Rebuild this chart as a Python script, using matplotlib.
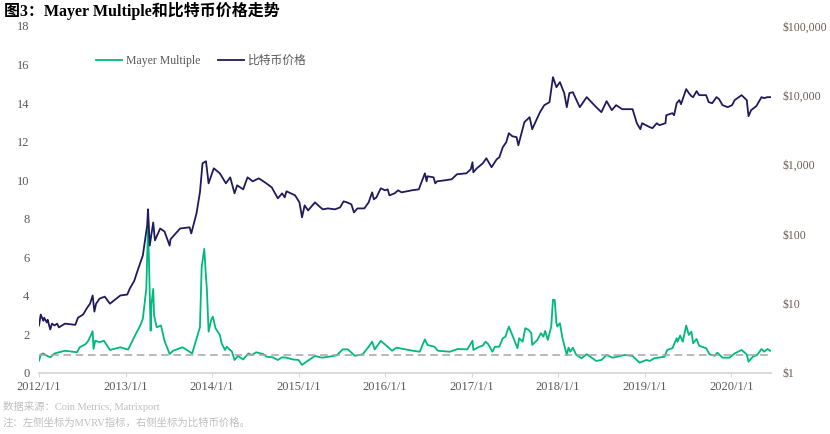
import matplotlib
matplotlib.use("Agg")
import matplotlib.pyplot as plt

plt.rcParams['font.family'] = ['Liberation Serif', 'Noto Sans CJK SC', 'DejaVu Sans']

# values, x is decimal year
price_years = [2012.00, 2012.02, 2012.05, 2012.06, 2012.09, 2012.10, 2012.13, 2012.15, 2012.18, 2012.21,
               2012.23, 2012.30, 2012.42, 2012.45, 2012.51, 2012.55, 2012.59, 2012.62, 2012.64, 2012.66,
               2012.70, 2012.76, 2012.82, 2012.94, 2013.02, 2013.05, 2013.10, 2013.14, 2013.20, 2013.25,
               2013.26, 2013.28, 2013.32, 2013.34, 2013.40,
               2013.45, 2013.51, 2013.52, 2013.63, 2013.74, 2013.76, 2013.82, 2013.86, 2013.89, 2013.93,
               2013.96, 2014.02, 2014.09, 2014.16, 2014.21, 2014.26, 2014.29, 2014.36, 2014.41, 2014.47,
               2014.54, 2014.61, 2014.69, 2014.76, 2014.81, 2014.84, 2014.86, 2014.96, 2015.01, 2015.04,
               2015.07, 2015.11, 2015.19, 2015.24, 2015.28, 2015.34, 2015.42, 2015.48, 2015.52, 2015.56,
               2015.61, 2015.64, 2015.68, 2015.76, 2015.81, 2015.85, 2015.87, 2015.90, 2015.95, 2016.00,
               2016.03, 2016.05, 2016.11, 2016.15, 2016.19, 2016.31, 2016.39, 2016.42, 2016.46, 2016.48,
               2016.49, 2016.56, 2016.58, 2016.60, 2016.69, 2016.77, 2016.83, 2016.94, 2016.99, 2017.01,
               2017.02, 2017.06, 2017.13, 2017.17, 2017.23, 2017.29, 2017.32, 2017.36, 2017.40, 2017.43,
               2017.47, 2017.52, 2017.54, 2017.61, 2017.67, 2017.70, 2017.79,
               2017.84, 2017.90, 2017.94, 2017.98, 2018.02, 2018.07, 2018.10, 2018.13, 2018.17, 2018.25,
               2018.33, 2018.44, 2018.50, 2018.56, 2018.62, 2018.67, 2018.74, 2018.86, 2018.91, 2018.95,
               2018.97, 2019.06, 2019.09, 2019.14, 2019.17, 2019.24, 2019.25, 2019.32, 2019.34, 2019.37,
               2019.40, 2019.42, 2019.48, 2019.51, 2019.54, 2019.56, 2019.60, 2019.63, 2019.71, 2019.74,
               2019.78, 2019.83, 2019.86, 2019.90, 2019.96, 2020.01, 2020.04, 2020.12, 2020.18, 2020.20,
               2020.23, 2020.29, 2020.35, 2020.38, 2020.42, 2020.46]
price = [4.8, 6.9, 5.6, 6.2, 5.3, 5.8, 4.2, 5.1, 4.8, 5.1,
         4.5, 5.1, 4.9, 6.2, 6.9, 8.4, 9.9, 13, 7.6, 9.9,
         11.7, 12.5, 9.9, 13, 13.4, 16.4, 21, 29.8, 49, 133,
         227, 68, 147, 81, 120,
         109, 68, 84, 120, 125, 102, 198, 399, 1048, 1120,
         538, 887, 751, 538, 657, 386, 504, 441, 657, 575,
         635, 557, 471, 327, 386, 338, 413, 361, 286, 174,
         259, 219, 286, 250, 227, 234, 227, 242, 296, 286,
         268, 205, 234, 234, 286, 399, 316, 338, 456, 427,
         441, 361, 386, 427, 399, 427, 441, 557, 751, 575,
         680, 657, 538, 575, 595, 616, 727, 751, 859, 1083,
         776, 887, 1048, 1237, 920, 1197, 1279, 1784, 2107, 2842,
         2570, 2490, 1906, 4100, 4840, 3250, 5720,
         7217, 7980, 18300, 13100, 15500, 10800, 6750, 10800, 11100, 6750,
         9420, 6750, 5720, 8250, 6110, 7217, 6320, 6320, 3960, 3250,
         3960, 3470, 3360, 3960, 3710, 3960, 5170, 5530, 5170, 7710,
         8530, 7460, 12300, 10800, 9730, 9420, 11500, 10060, 10060, 7980,
         7710, 9420, 8810, 7220, 6750, 7220, 8530, 10060, 8530, 5000,
         6110, 6980, 9420, 9120, 9420, 9420]

mayer_years = [2012.00, 2012.02, 2012.05, 2012.09, 2012.13, 2012.18, 2012.30, 2012.44, 2012.47, 2012.54,
               2012.57, 2012.62, 2012.63, 2012.65, 2012.70, 2012.75, 2012.82, 2012.94, 2013.03, 2013.11,
               2013.17, 2013.20, 2013.24, 2013.26, 2013.27, 2013.29, 2013.30, 2013.32, 2013.33, 2013.36,
               2013.41, 2013.45, 2013.51, 2013.55, 2013.66, 2013.77, 2013.82, 2013.86, 2013.88, 2013.91,
               2013.93, 2013.94, 2013.95, 2013.96, 2013.99, 2014.01, 2014.04, 2014.09, 2014.11, 2014.15,
               2014.17, 2014.23, 2014.26, 2014.30, 2014.36, 2014.42, 2014.46, 2014.51, 2014.59, 2014.63,
               2014.70, 2014.76, 2014.81, 2014.86, 2014.93, 2015.00, 2015.04, 2015.09, 2015.19, 2015.27,
               2015.35, 2015.44, 2015.51, 2015.57, 2015.65, 2015.74, 2015.81, 2015.85, 2015.88, 2015.95,
               2016.03, 2016.08, 2016.13, 2016.32, 2016.40, 2016.46, 2016.49, 2016.57, 2016.61, 2016.75,
               2016.84, 2016.95, 2017.01, 2017.02, 2017.09, 2017.13, 2017.16, 2017.19, 2017.24, 2017.27,
               2017.32, 2017.36, 2017.39, 2017.43, 2017.47, 2017.53, 2017.55, 2017.59, 2017.62, 2017.66,
               2017.69, 2017.70, 2017.76, 2017.80, 2017.83, 2017.85, 2017.88, 2017.92, 2017.94, 2017.96,
               2017.98, 2017.99, 2018.02, 2018.05, 2018.10, 2018.12, 2018.14, 2018.17, 2018.21, 2018.27,
               2018.33, 2018.44, 2018.50, 2018.56, 2018.63, 2018.77,
               2018.86, 2018.94, 2019.02, 2019.06, 2019.11, 2019.23, 2019.26, 2019.32, 2019.37, 2019.38,
               2019.41, 2019.44, 2019.48, 2019.51, 2019.54, 2019.56, 2019.60, 2019.63, 2019.71, 2019.75,
               2019.81, 2019.84, 2019.90, 2019.98, 2020.04, 2020.12, 2020.18, 2020.20, 2020.25, 2020.30,
               2020.35, 2020.38, 2020.42, 2020.45]
mayer = [0.62, 0.94, 1.0, 0.88, 0.8, 1.0, 1.14, 1.06, 1.32, 1.49,
         1.66, 2.15, 1.23, 1.66, 1.58, 1.66, 1.18, 1.32, 1.2, 1.93,
         2.45, 2.8, 4.35, 7.56, 6.0, 2.18, 3.57, 4.35, 2.97, 2.36,
         2.45, 1.66, 0.97, 1.14, 1.32, 1.0, 1.75, 2.36, 5.48, 6.43,
         4.96, 4.35, 3.26, 2.13, 2.74, 2.91, 2.31, 1.96, 1.53, 1.18,
         1.35, 1.09, 0.66, 0.87, 0.69, 1.0, 0.92, 1.06, 0.97, 0.83,
         0.80, 0.66, 0.8, 0.78, 0.69, 0.66, 0.40, 0.57, 0.87, 0.78,
         0.83, 0.9, 1.21, 1.21, 0.88, 0.95, 1.35, 1.61, 1.21, 1.65,
         1.35, 1.14, 1.3, 1.14, 1.09, 1.73, 1.44, 1.35, 1.14, 1.09,
         1.23, 1.21, 1.66, 1.18, 1.35, 1.41, 1.61, 1.49, 1.09, 1.35,
         1.35, 1.79, 1.87, 2.39, 1.96, 1.27, 1.79, 1.61, 2.31, 2.22,
         2.05, 1.44, 1.70, 2.05, 1.87, 2.17, 1.70, 2.39, 3.78, 3.78,
         2.57, 2.4, 2.57, 1.79, 0.92, 1.30, 1.09, 1.3, 0.92, 0.75,
         0.96, 0.61, 0.66, 0.92, 0.78, 0.92,
         0.87, 0.52, 0.66, 0.61, 0.75, 0.83, 1.18, 1.27, 1.79, 1.61,
         1.93, 1.61, 2.45, 1.96, 2.13, 1.53, 1.75, 1.40, 1.27, 0.95,
         0.88, 1.04, 0.78, 0.78, 1.0, 1.18, 0.95, 0.57, 0.83, 0.92,
         1.23, 1.09, 1.23, 1.14]

mean_level = 0.94

year_ticks = [2012, 2013, 2014, 2015, 2016, 2017, 2018, 2019, 2020]
left_ticks = [0, 2, 4, 6, 8, 10, 12, 14, 16, 18]
right_ticks = [1, 10, 100, 1000, 10000, 100000]
right_labels = ['$1', '$10', '$100', '$1,000', '$10,000', '$100,000']

GREEN = '#00B97A'
NAVY = '#201A5E'
GRAY = '#595959'
BROWN = '#6B5D50'

fig = plt.figure(figsize=(8.3, 4.34), dpi=100)
ax = fig.add_axes([39 / 830, 1 - 372.7 / 434, 732 / 830, 346.7 / 434])

ax.plot(mayer_years, mayer, color=GREEN, lw=1.3, label='Mayer Multiple')
ax.plot([year_ticks[0], price_years[-1]], [mean_level, mean_level], color='#A6A6A6', lw=1.1, dashes=(5, 3))
ax.set_xlim(2012, 2020.46)
ax.set_ylim(0, 18)
ax.set_yticks(left_ticks)
ax.set_xticks(year_ticks)
ax.set_xticklabels([f'{y}/1/1' for y in year_ticks])
ax.tick_params(axis='y', length=0, pad=7, labelsize=9, labelcolor=GRAY)
ax.tick_params(axis='x', length=3, width=0.8, color='#D9D9D9', pad=3, labelsize=9, labelcolor=GRAY)
for s in ['top', 'left', 'right']:
    ax.spines[s].set_visible(False)
ax.spines['bottom'].set_color('#D9D9D9')
ax.spines['bottom'].set_linewidth(1.4)

ax2 = ax.twinx()
ax2.plot(price_years, price, color=NAVY, lw=1.3, label='比特币价格')
ax2.set_yscale('log')
ax2.set_ylim(1, 100000)
ax2.set_yticks(right_ticks)
ax2.set_yticklabels(right_labels)
ax2.minorticks_off()
ax2.tick_params(axis='y', length=0, pad=8, labelsize=8.5, labelcolor=BROWN)
for s in ['top', 'left', 'right', 'bottom']:
    ax2.spines[s].set_visible(False)

h1, l1 = ax.get_legend_handles_labels()
h2, l2 = ax2.get_legend_handles_labels()
fig.legend(h1 + h2, l1 + l2, ncol=2, frameon=False, fontsize=8.5, labelcolor=GRAY,
           loc='center left', bbox_to_anchor=(96 / 830, 1 - 61 / 434),
           handlelength=2.2, handletextpad=0.35, columnspacing=1.5, borderpad=0, borderaxespad=0)

fig.text(4 / 830, 1 - 11 / 434, '图3：Mayer Multiple和比特币价格走势', fontsize=11.5, fontweight='bold',
         color='black', va='center', ha='left')
fig.text(3 / 830, 1 - 406 / 434, '数据来源：Coin Metrics, Matrixport', fontsize=7.5, color='#BFBFBF', va='center', ha='left')
fig.text(3 / 830, 1 - 423 / 434, '注：左侧坐标为MVRV指标，右侧坐标为比特币价格。', fontsize=7.5, color='#BFBFBF', va='center', ha='left')

fig.savefig('out.png', dpi=100)
